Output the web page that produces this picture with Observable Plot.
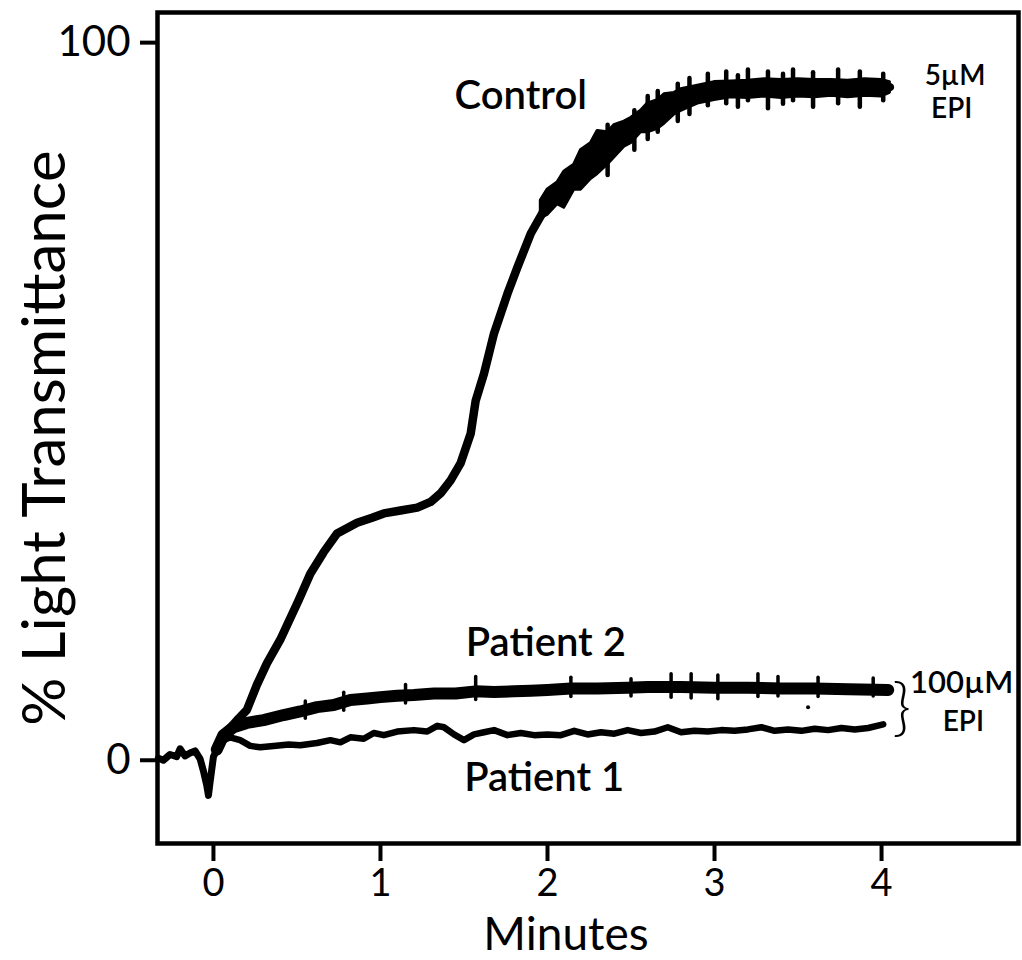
<!DOCTYPE html>
<html><head><meta charset="utf-8">
<script src="https://cdn.jsdelivr.net/npm/d3@7"></script>
<script src="https://cdn.jsdelivr.net/npm/@observablehq/plot@0.6"></script>
<style>body{margin:0;background:#fff}</style>
</head><body><div id="chart"></div>
<script>
// ---- data (x in minutes, y in % light transmittance) ----
const xTicks = [0, 1, 2, 3, 4];
const yTicks = [0, 100];
const xLabel = "Minutes";
const yLabel = "% Light Transmittance";

const baselineX = [-0.33, -0.30, -0.26, -0.22, -0.20, -0.17, -0.14, -0.11, -0.08, -0.06, -0.04, -0.03, -0.02, 0.00, 0.02];
const baselineY = [0.3, 0.0, 0.8, 0.5, 1.6, 0.6, 1.0, 1.3, 0.2, -1.5, -3.5, -4.9, -3.0, 0.5, 1.5];

const controlX = [0.02, 0.05, 0.10, 0.15, 0.20, 0.26, 0.32, 0.40, 0.51, 0.58, 0.66, 0.74, 0.86, 0.95, 1.02, 1.12, 1.22, 1.30, 1.36, 1.42, 1.48, 1.54, 1.57, 1.62, 1.68, 1.76, 1.82, 1.90, 2.00, 2.10, 2.20, 2.30, 2.40, 2.50, 2.60, 2.70, 2.80, 2.90, 3.00, 3.20, 3.40, 3.60, 3.80, 4.00, 4.05];
const controlY = [1.5, 3.0, 4.5, 5.8, 7.0, 10.5, 13.5, 16.8, 22.3, 26.0, 29.0, 31.6, 33.1, 33.8, 34.4, 34.8, 35.2, 36.0, 37.2, 39.0, 41.4, 45.5, 50.1, 53.9, 59.5, 65.0, 68.7, 73.4, 77.5, 79.5, 82.3, 84.7, 86.3, 87.8, 89.5, 90.7, 92.0, 92.8, 93.2, 93.5, 93.6, 93.6, 93.6, 93.7, 93.8];

// noisy envelope of the control trace
const ctrlBandX  = [1.96, 2.00, 2.06, 2.10, 2.16, 2.20, 2.26, 2.30, 2.36, 2.40, 2.46, 2.50, 2.56, 2.60, 2.66, 2.70, 2.76, 2.80, 2.90, 3.00, 3.10, 3.20, 3.30, 3.40, 3.50, 3.60, 3.70, 3.80, 3.90, 4.00, 4.05];
const ctrlBandLo = [75.5, 76.0, 77.5, 77.0, 79.5, 79.5, 81.0, 81.7, 83.0, 84.0, 85.5, 86.0, 87.5, 87.5, 88.0, 88.7, 90.0, 90.5, 91.5, 92.0, 92.4, 92.3, 92.5, 92.3, 92.5, 92.4, 92.6, 92.4, 92.6, 92.5, 93.0];
const ctrlBandHi = [78.0, 79.5, 80.5, 82.0, 83.0, 85.0, 86.0, 87.7, 87.5, 88.5, 89.0, 89.5, 90.5, 91.5, 92.0, 92.8, 93.0, 93.5, 94.0, 94.5, 94.6, 94.7, 94.9, 94.8, 94.9, 94.8, 94.8, 94.7, 94.9, 94.8, 94.5];

const ctrlSpikeX  = [2.36, 2.52, 2.60, 2.66, 2.78, 2.85, 2.96, 3.07, 3.14, 3.20, 3.32, 3.41, 3.47, 3.59, 3.74, 3.87, 4.01];
const ctrlSpikeLo = [81.5, 85.0, 86.5, 87.5, 89.0, 90.0, 91.2, 91.5, 91.0, 91.9, 90.8, 91.4, 91.9, 91.0, 91.5, 91.0, 91.9];
const ctrlSpikeHi = [88.5, 90.5, 92.5, 93.2, 94.2, 95.0, 95.6, 95.9, 95.4, 96.2, 95.9, 95.6, 96.2, 95.8, 96.2, 95.9, 95.6];

const patient2X = [0.02, 0.06, 0.12, 0.20, 0.30, 0.42, 0.52, 0.62, 0.72, 0.82, 0.92, 1.00, 1.10, 1.20, 1.32, 1.45, 1.57, 1.68, 1.80, 1.90, 2.00, 2.14, 2.30, 2.48, 2.60, 2.80, 3.00, 3.20, 3.40, 3.60, 3.80, 4.04];
const patient2Y = [1.5, 3.5, 4.6, 5.2, 5.6, 6.3, 6.8, 7.4, 7.7, 8.4, 8.6, 8.8, 9.0, 9.1, 9.3, 9.3, 9.6, 9.5, 9.6, 9.7, 9.8, 10.0, 10.0, 10.1, 10.2, 10.2, 10.1, 10.1, 10.0, 10.0, 9.9, 9.8];
const p2SpikeX  = [0.55, 0.78, 1.15, 1.57, 2.14, 2.50, 2.74, 2.86, 3.02, 3.26, 3.38, 3.62, 3.95];
const p2SpikeLo = [5.8, 6.9, 7.9, 8.4, 8.8, 8.9, 8.7, 8.6, 8.5, 8.8, 8.9, 8.8, 8.9];
const p2SpikeHi = [8.2, 9.4, 10.5, 11.6, 11.5, 11.3, 12.0, 12.0, 11.8, 12.0, 11.6, 11.5, 11.4];
const specks = [{x: 3.56, y: 7.4}];

const patient1X = [0.02, 0.06, 0.10, 0.16, 0.22, 0.28, 0.36, 0.45, 0.52, 0.62, 0.70, 0.76, 0.82, 0.90, 0.96, 1.02, 1.10, 1.20, 1.28, 1.34, 1.38, 1.44, 1.50, 1.56, 1.62, 1.68, 1.76, 1.84, 1.92, 2.00, 2.08, 2.16, 2.24, 2.32, 2.40, 2.48, 2.56, 2.64, 2.72, 2.80, 2.88, 2.96, 3.04, 3.12, 3.20, 3.28, 3.36, 3.44, 3.52, 3.60, 3.68, 3.76, 3.84, 3.92, 4.01];
const patient1Y = [1.5, 2.8, 3.2, 2.8, 2.0, 1.8, 2.0, 2.2, 2.1, 2.4, 2.8, 2.5, 3.2, 3.0, 3.8, 3.5, 4.0, 4.2, 4.0, 4.8, 4.6, 3.6, 2.8, 3.6, 3.9, 4.2, 3.5, 3.8, 3.5, 3.6, 3.5, 4.1, 3.6, 3.9, 3.7, 4.2, 3.8, 4.0, 4.6, 3.9, 4.1, 4.0, 4.2, 4.1, 4.3, 4.6, 4.1, 4.3, 4.1, 4.4, 4.2, 4.5, 4.3, 4.5, 5.0];

const annotations = [
  {text: "Control",   x: 1.84, y: 92.5, size: 40},
  {text: "5µM",       x: 4.44, y: 95.4, size: 28},
  {text: "EPI",       x: 4.42, y: 90.8, size: 28},
  {text: "Patient 2", x: 1.99, y: 16.3, size: 40},
  {text: "Patient 1", x: 1.98, y: -2.5, size: 40},
  {text: "100µM",     x: 4.48, y: 10.7, size: 31},
  {text: "EPI",       x: 4.49, y: 5.3,  size: 28}
];
const braceAt = [{x: 4.12, y: 7.2}];

// ---- tables built from the arrays ----
const pts = (xs, ys) => xs.map((x, i) => ({x, y: ys[i]}));
const baseline = pts(baselineX, baselineY);
const control = pts(controlX, controlY);
const patient2 = pts(patient2X, patient2Y);
const patient1 = pts(patient1X, patient1Y);
const ctrlBand = ctrlBandX.map((x, i) => ({x, lo: ctrlBandLo[i], hi: ctrlBandHi[i]}));
const ctrlSpikes = ctrlSpikeX.map((x, i) => ({x, lo: ctrlSpikeLo[i], hi: ctrlSpikeHi[i]}));
const p2Spikes = p2SpikeX.map((x, i) => ({x, lo: p2SpikeLo[i], hi: p2SpikeHi[i]}));

const chart = Plot.plot({
  width: 1022, height: 960,
  marginLeft: 157, marginRight: 4, marginTop: 12, marginBottom: 117,
  style: {fontFamily: "Lato, 'Noto Sans', sans-serif", background: "#fff", color: "#000"},
  x: {domain: [-0.335, 4.82]},
  y: {domain: [-11.6, 104.2]},
  marks: [
    Plot.axisX({ticks: xTicks, tickSize: 18, tickPadding: 8, fontSize: 38, strokeWidth: 4, label: null, tickFormat: d => String(d)}),
    Plot.axisY({ticks: yTicks, tickSize: 17, tickPadding: 10, fontSize: 42, strokeWidth: 4, label: null, tickFormat: d => String(d)}),
    Plot.areaY(ctrlBand, {x: "x", y1: "lo", y2: "hi", fill: "#000", stroke: "#000", strokeWidth: 3, strokeLinejoin: "round", curve: "linear"}),
    Plot.ruleX(ctrlSpikes, {x: "x", y1: "lo", y2: "hi", strokeWidth: 4.5, strokeLinecap: "round"}),
    Plot.ruleX(p2Spikes, {x: "x", y1: "lo", y2: "hi", strokeWidth: 3.5, strokeLinecap: "round"}),
    Plot.line(baseline, {x: "x", y: "y", strokeWidth: 7}),
    Plot.line(control, {x: "x", y: "y", strokeWidth: 8.5}),
    Plot.line(patient2, {x: "x", y: "y", strokeWidth: 12}),
    Plot.line(patient1, {x: "x", y: "y", strokeWidth: 6.5}),
    Plot.dot(specks, {x: "x", y: "y", r: 2, fill: "#000"}),
    Plot.frame({strokeWidth: 4.5}),
    Plot.text([xLabel], {frameAnchor: "bottom", lineAnchor: "middle", dx: -22, dy: 92, fontSize: 46}),
    Plot.text([yLabel], {frameAnchor: "left", textAnchor: "middle", lineAnchor: "middle", rotate: -90, dx: -112, dy: 10, fontSize: 60}),
    Plot.text(annotations, {x: "x", y: "y", text: "text", fontSize: d => d.size, fontWeight: 600}),
    Plot.text(braceAt, {x: "x", y: "y", text: () => "}", fontSize: 64, fontWeight: 300})
  ]
});
document.getElementById("chart").appendChild(chart);
</script>
</body></html>
